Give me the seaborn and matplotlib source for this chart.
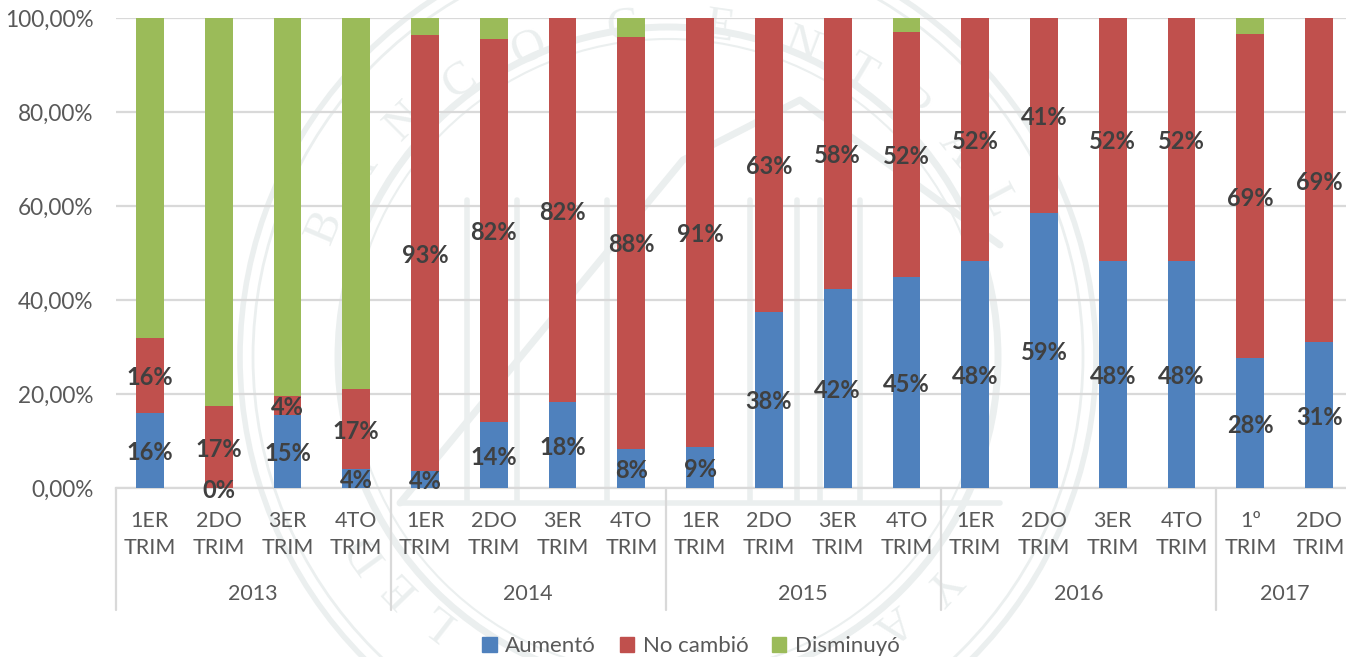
import numpy as np
import pandas as pd
import seaborn as sns
import matplotlib.pyplot as plt
from matplotlib.patches import Circle, Patch

sns.set_theme(style="whitegrid")
plt.rcParams['font.family'] = ['Lato', 'DejaVu Sans']

# --- data ---
quarters = ['1ER\nTRIM', '2DO\nTRIM', '3ER\nTRIM', '4TO\nTRIM'] * 4 + ['1º\nTRIM', '2DO\nTRIM']
years = ['2013', '2014', '2015', '2016', '2017']
year_sizes = [4, 4, 4, 4, 2]

aumento = [16, 0, 15.5, 4, 3.7, 14, 18.2, 8.3, 8.8, 37.5, 42.3, 45, 48.2, 58.6, 48.2, 48.2, 27.6, 31]
no_cambio = [16, 17.4, 4, 17, 92.6, 81.5, 81.8, 87.7, 91.2, 62.5, 57.7, 52, 51.8, 41.4, 51.8, 51.8, 68.9, 69]
disminuyo = [68, 82.6, 80.5, 79, 3.7, 4.5, 0, 4, 0, 0, 0, 3, 0, 0, 0, 0, 3.5, 0]

lab_aumento = ['16%', '0%', '15%', '4%', '4%', '14%', '18%', '8%', '9%', '38%', '42%', '45%', '48%', '59%', '48%', '48%', '28%', '31%']
lab_no_cambio = ['16%', '17%', '4%', '17%', '93%', '82%', '82%', '88%', '91%', '63%', '58%', '52%', '52%', '41%', '52%', '52%', '69%', '69%']

series = ['Aumentó', 'No cambió', 'Disminuyó']
colors = ['#4f81bd', '#c0504d', '#9bbb59']

# seal letters and where they sit on the ring (degrees from the top)
seal_letters = ['B', 'A', 'N', 'C', 'O', 'C', 'E', 'N', 'T', 'R', 'A', 'L', 'D', 'E', 'L', 'A', 'Y']
seal_angles = [-67, -56, -45, -34, -22, -7, 8, 21, 31, 41, 51, 62, -126, -134, -142, 143, 133]

W, H = 1346, 657
TEXT = '#595959'
GRID = '#d9d9d9'

df = pd.DataFrame({'pos': np.arange(len(quarters)), 'a': aumento, 'n': no_cambio, 'd': disminuyo})
df['top_a'] = df['a']
df['top_n'] = df['a'] + df['n']
df['top_d'] = df['top_n'] + df['d']

fig = plt.figure(figsize=(W / 100, H / 100), dpi=100)

# faint seal behind the chart
bg = fig.add_axes([0, 0, 1, 1], zorder=0)
bg.set_xlim(0, W)
bg.set_ylim(H, 0)
bg.axis('off')
wm = '#ebefef'
cx, cy = 668, 357
for r, lw in [(428, 4), (415, 2), (330, 5), (318, 1.5)]:
    bg.add_patch(Circle((cx, cy), r, fill=False, ec=wm, lw=lw))
for ch, a in zip(seal_letters, seal_angles):
    t = np.deg2rad(a)
    bg.text(cx + 372 * np.sin(t), cy - 332 * np.cos(t), ch, rotation=-a, color=wm,
            fontsize=34, ha='center', va='center', family='Liberation Serif')
# building in the middle of the seal
for x in [467, 517, 607, 750, 797, 820, 860]:
    bg.plot([x, x], [200, 500], color=wm, lw=4)
bg.plot([400, 683, 800, 1000], [503, 160, 100, 245], color=wm, lw=5)
bg.plot([400, 1000], [503, 503], color=wm, lw=4)

# main axes, right edge runs past the image like the reference
left, right, top, bottom = 115.5, 1353.5, 18, 488
ax = fig.add_axes([left / W, 1 - bottom / H, (right - left) / W, (bottom - top) / H], zorder=1)
ax.patch.set_alpha(0)

# stacked bars: tallest first so the lower parts sit on top
for col, c in [('top_d', colors[2]), ('top_n', colors[1]), ('top_a', colors[0])]:
    sns.barplot(data=df, x='pos', y=col, color=c, width=0.405, saturation=1, ax=ax,
                linewidth=0, zorder=3)

ax.set_xlim(-0.5, len(quarters) - 0.5)
ax.set_ylim(0, 100)
ax.set_xlabel('')
ax.set_ylabel('')
ax.set_yticks(np.arange(0, 101, 20))
ax.set_yticklabels([f'{v},00%' for v in range(0, 101, 20)])
ax.set_xticks(np.arange(len(quarters)))
ax.set_xticklabels(quarters, linespacing=1.47)
ax.tick_params(axis='y', labelsize=16.3, labelcolor=TEXT, length=0, pad=16)
ax.tick_params(axis='x', labelsize=15.5, labelcolor=TEXT, length=0, pad=16.5)
ax.grid(axis='x', visible=False)
ax.grid(axis='y', color=GRID, lw=1.6)
ax.set_axisbelow(True)
for s in ['top', 'left', 'right']:
    ax.spines[s].set_visible(False)
ax.spines['bottom'].set_color(GRID)
ax.spines['bottom'].set_linewidth(1.6)

# data labels
for i in df.index:
    for y, lab in [(df.a[i] / 2, lab_aumento[i]), (df.a[i] + df.n[i] / 2, lab_no_cambio[i])]:
        ax.annotate(lab, (i, y), xytext=(0, -1.5), textcoords='offset points', ha='center', va='center',
                    fontsize=17, fontweight='bold', color='#404040', zorder=5, annotation_clip=False)

# year brackets under the quarters
trans = ax.get_xaxis_transform()
year_y = -(594 - bottom) / (bottom - top)
line_y = -(610 - bottom) / (bottom - top)
edge = -0.5
ax.plot([edge, edge], [0, line_y], transform=trans, color=GRID, lw=1.6, clip_on=False)
for year, size in zip(years, year_sizes):
    ax.text(edge + size / 2, year_y, year, transform=trans, ha='center', va='center',
            fontsize=15.5, color=TEXT)
    edge += size
    ax.plot([edge, edge], [0, line_y], transform=trans, color=GRID, lw=1.6, clip_on=False)

handles = [Patch(color=c, label=s) for c, s in zip(colors, series)]
fig.legend(handles=handles, loc='center', bbox_to_anchor=(691 / W, 1 - 646 / H), ncol=3, frameon=False,
           fontsize=16, labelcolor=TEXT, handlelength=0.65, handleheight=0.65, handletextpad=0.4,
           columnspacing=1.05, borderpad=0)

fig.savefig('out.png', dpi=100)
